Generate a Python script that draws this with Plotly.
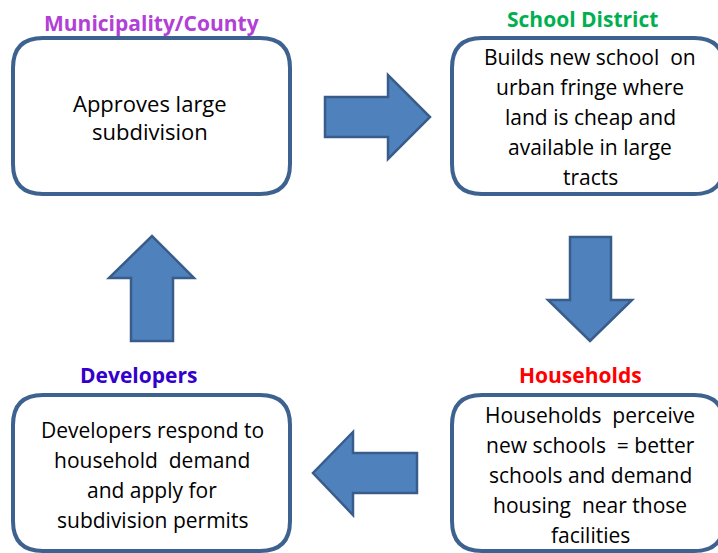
import plotly.graph_objects as go

# ---- content ----
titles = ["Municipality/County", "School District", "Households", "Developers"]
title_colors = ["#B23FD6", "#00B050", "#FF0000", "#3300CC"]
bodies = [
    ["Approves large", "subdivision"],
    ["Builds new school  on", "urban fringe where", "land is cheap and", "available in large", "tracts"],
    ["Households  perceive", "new schools  = better", "schools and demand", "housing  near those", "facilities"],
    ["Developers respond to", "household  demand", "and apply for", "subdivision permits"],
]

# ---- layout (pixel space of the 718x553 window) ----
W, H = 718, 553
boxes = [(13, 38, 290, 194), (452, 38, 724, 194), (452, 395, 724, 551), (13, 395, 290, 551)]
title_pos = [(151, 23), (582, 19), (580, 375), (138, 375)]
body_pos = [(150, 103, 28), (590, 57, 30), (590, 415, 30), (152, 430, 30)]
body_sizes = [22, 21, 21, 21]

BORDER = "#3E6290"
ARROW_FILL = "#4F81BD"
ARROW_LINE = "#385D8A"


def rounded_rect(x0, y0, x1, y1, r):
    return (f"M{x0+r},{y0} L{x1-r},{y0} Q{x1},{y0} {x1},{y0+r} "
            f"L{x1},{y1-r} Q{x1},{y1} {x1-r},{y1} L{x0+r},{y1} "
            f"Q{x0},{y1} {x0},{y1-r} L{x0},{y0+r} Q{x0},{y0} {x0+r},{y0} Z")


def poly(pts):
    return "M" + " L".join(f"{x},{y}" for x, y in pts) + " Z"


arrows = [
    [(325, 97), (388, 97), (388, 75), (430, 117), (388, 159), (388, 137), (325, 137)],
    [(570, 237), (611, 237), (611, 300), (632, 300), (590, 341), (548, 300), (570, 300)],
    [(417, 453), (353, 453), (353, 432), (313, 473), (353, 515), (353, 493), (417, 493)],
    [(131, 341), (131, 278), (109, 278), (152, 236), (194, 278), (173, 278), (173, 341)],
]

fig = go.Figure()
shapes = []
for (x0, y0, x1, y1) in boxes:
    shapes.append(dict(type="path", path=rounded_rect(x0, y0, x1, y1, 30),
                       line=dict(color=BORDER, width=4), fillcolor="white",
                       xref="x", yref="y", layer="above"))
for pts in arrows:
    shapes.append(dict(type="path", path=poly(pts),
                       line=dict(color=ARROW_LINE, width=2.5), fillcolor=ARROW_FILL,
                       xref="x", yref="y", layer="above"))

annotations = []
FONT = "Open Sans, Calibri, sans-serif"
for t, c, (x, y) in zip(titles, title_colors, title_pos):
    annotations.append(dict(x=x, y=y, xref="x", yref="y", text=f"<b>{t}</b>",
                            showarrow=False, font=dict(family=FONT, size=21, color=c),
                            xanchor="center", yanchor="middle"))
for lines, (x, y, dy), fs in zip(bodies, body_pos, body_sizes):
    for i, ln in enumerate(lines):
        annotations.append(dict(x=x, y=y + i * dy, xref="x", yref="y",
                                text=ln.replace("  ", "&nbsp; "),
                                showarrow=False, font=dict(family=FONT, size=fs, color="black"),
                                xanchor="center", yanchor="middle"))

fig.update_layout(
    width=W, height=H, margin=dict(l=0, r=0, t=0, b=0),
    paper_bgcolor="white", plot_bgcolor="white",
    xaxis=dict(range=[0, W], visible=False, fixedrange=True),
    yaxis=dict(range=[H, 0], visible=False, fixedrange=True),
    shapes=shapes, annotations=annotations, showlegend=False,
)
fig.write_html(
    "out.html",
    config={"displayModeBar": False},
    post_script="document.body.style.margin='0';document.body.style.overflow='hidden';",
)
